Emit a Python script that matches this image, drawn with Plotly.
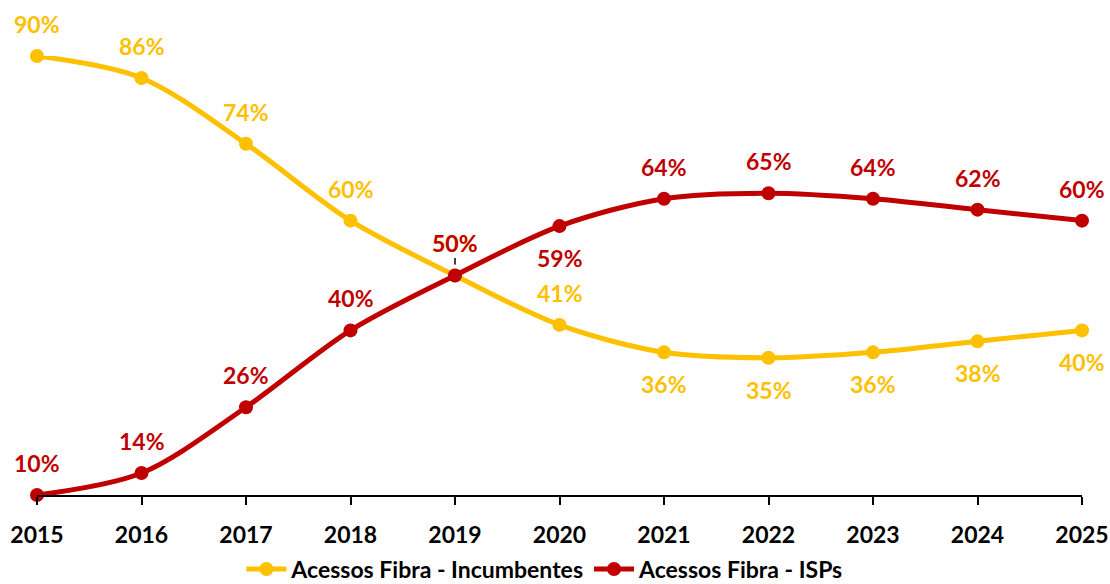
import plotly.graph_objects as go

years = [2015, 2016, 2017, 2018, 2019, 2020, 2021, 2022, 2023, 2024, 2025]
incumbentes = [90, 86, 74, 60, 50, 41, 36, 35, 36, 38, 40]
isps = [10, 14, 26, 40, 50, 59, 64, 65, 64, 62, 60]
inc_label_pos = ["above"] * 6 + ["below"] * 5
isp_label_pos = ["above"] * 5 + ["below"] + ["above"] * 5

YELLOW = "#FFC000"
RED = "#C00000"
FONT = "Lato"

fig = go.Figure()
fig.add_trace(go.Scatter(
    x=years, y=incumbentes, name="<b>Acessos Fibra - Incumbentes</b>",
    mode="lines+markers", line=dict(color=YELLOW, width=5, shape="spline", smoothing=0.9),
    marker=dict(size=14, color=YELLOW), cliponaxis=False))
fig.add_trace(go.Scatter(
    x=years, y=isps, name="<b>Acessos Fibra - ISPs</b>",
    mode="lines+markers", line=dict(color=RED, width=5, shape="spline", smoothing=0.9),
    marker=dict(size=14, color=RED), cliponaxis=False))

annotations = []
for series, pos, color in [(incumbentes, inc_label_pos, YELLOW), (isps, isp_label_pos, RED)]:
    for x, v, p in zip(years, series, pos):
        if x == 2019:
            annotations.append(dict(
                x=x, y=v, xref="x", yref="y", text=f"<b>{v}%</b>",
                showarrow=True, arrowhead=0, arrowwidth=1, arrowcolor="#000000",
                ax=0, ay=-33, standoff=11,
                font=dict(family=FONT, size=23, color=color)))
        else:
            annotations.append(dict(
                x=x, y=v, xref="x", yref="y", text=f"<b>{v}%</b>",
                showarrow=False, yshift=32 if p == "above" else -32,
                font=dict(family=FONT, size=23, color=color)))

fig.update_layout(
    width=1110, height=584,
    margin=dict(l=37, r=28, t=56, b=89, autoexpand=False),
    plot_bgcolor="white", paper_bgcolor="white",
    annotations=annotations,
    showlegend=True,
    legend=dict(orientation="h", x=0.486, xanchor="center", yref="container",
                y=15 / 584, yanchor="middle",
                font=dict(family=FONT, size=23, color="#000000"),
                itemwidth=40, tracegroupgap=0),
    xaxis=dict(range=[2015, 2025], tickmode="array", tickvals=years,
               ticktext=[f"<b>{y}</b>" for y in years], automargin=False,
               showgrid=False, zeroline=False, showline=True, linecolor="#000000", linewidth=2,
               ticks="outside", ticklen=8, tickwidth=2, tickcolor="#000000",
               ticklabelstandoff=10,
               tickfont=dict(family=FONT, size=23, color="#000000")),
    yaxis=dict(range=[10, 90], visible=False, automargin=False),
)

fig.write_html("out.html", config={"displayModeBar": False},
               post_script="document.body.style.margin='0';document.body.style.overflow='hidden';")
